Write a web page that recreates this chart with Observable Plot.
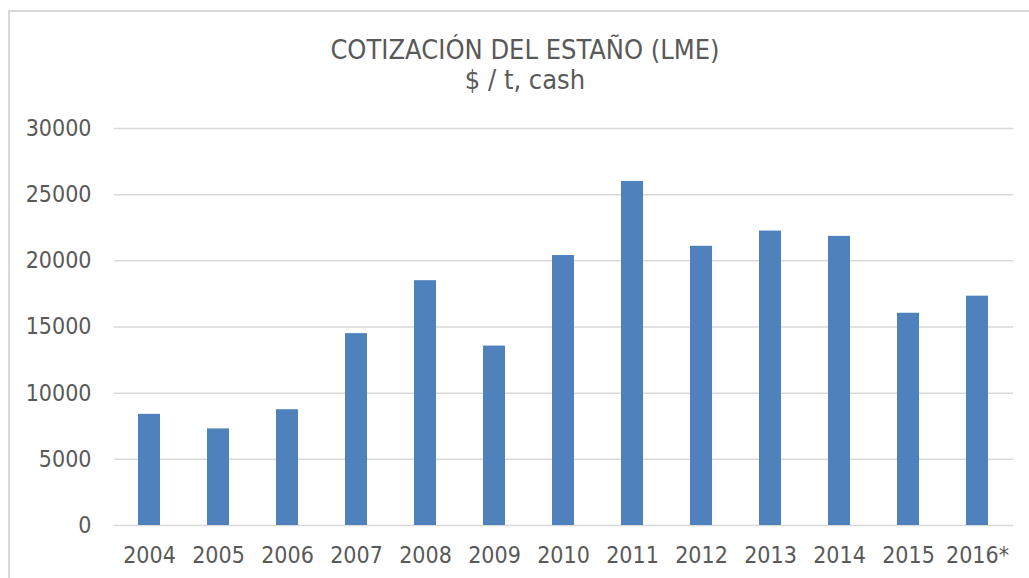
<!DOCTYPE html>
<html>
<head>
<meta charset="utf-8">
<script src="https://cdn.jsdelivr.net/npm/d3@7"></script>
<script src="https://cdn.jsdelivr.net/npm/@observablehq/plot@0.6"></script>
<style>
  html, body { margin: 0; padding: 0; background: #fff; }
  #wrap { position: relative; width: 1029px; height: 578px; overflow: hidden; font-family: "DejaVu Sans", "Liberation Sans", sans-serif; font-stretch: condensed; }
  #frame { position: absolute; left: 8px; top: 10px; width: 1100px; height: 700px; border-top: 2px solid #d9d9d9; border-left: 2px solid #d9d9d9; }
  #titles { position: absolute; left: 0; top: 0; width: 1050px; height: 100px; text-align: center; color: #595959; }
  #t1 { position: absolute; left: 0; width: 100%; top: 35px; font-size: 27px; line-height: 30px; }
  #t2 { position: absolute; left: 0; width: 100%; top: 65px; font-size: 27px; line-height: 30px; }
  #chart { position: absolute; left: 0; top: 100px; }
  #chart svg text { font-stretch: condensed; }
</style>
</head>
<body>
<div id="wrap">
  <div id="frame"></div>
  <div id="titles">
    <div id="t1">COTIZACIÓN DEL ESTAÑO (LME)</div>
    <div id="t2">$ / t, cash</div>
  </div>
  <div id="chart"></div>
</div>
<script>
const years = ["2004","2005","2006","2007","2008","2009","2010","2011","2012","2013","2014","2015","2016*"];
const prices = [8400, 7300, 8750, 14500, 18500, 13560, 20400, 26000, 21100, 22250, 21850, 16040, 17330];
const yTicks = [0, 5000, 10000, 15000, 20000, 25000, 30000];

const data = years.map((y, i) => ({year: y, price: prices[i]}));

const plot = Plot.plot({
  width: 1029,
  height: 478,
  marginTop: 28,
  marginBottom: 53,
  marginLeft: 114,
  marginRight: 16,
  style: {fontFamily: "'DejaVu Sans', 'Liberation Sans', sans-serif", fontSize: "23px", color: "#595959", background: "transparent"},
  x: {domain: years, paddingInner: 0.68, paddingOuter: 0.34, align: 0.5, label: null, tickSize: 0, tickPadding: 21},
  y: {domain: [0, 30000], ticks: yTicks, label: null, tickSize: 0, tickPadding: 23, tickFormat: d => String(d)},
  marks: [
    Plot.gridY(yTicks, {stroke: "#d9d9d9", strokeOpacity: 1, strokeWidth: 1.5}),
    Plot.barY(data, {x: "year", y: "price", fill: "#4f81bd"}),
    Plot.axisX({tickSize: 0, tickPadding: 21, fill: "#595959"}),
    Plot.axisY({ticks: yTicks, tickSize: 0, tickPadding: 23, tickFormat: d => String(d), fill: "#595959"})
  ]
});
document.getElementById("chart").appendChild(plot);
</script>
</body>
</html>
